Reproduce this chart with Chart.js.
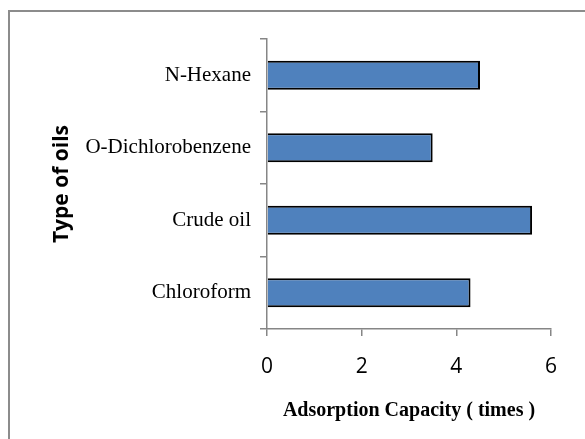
<!DOCTYPE html>
<html>
<head>
<meta charset="utf-8">
<script src="https://cdn.jsdelivr.net/npm/chart.js@4.4.1/dist/chart.umd.min.js"></script>
<style>
  body { margin: 0; background: #fff; }
  #wrap { position: relative; width: 585px; height: 439px; overflow: hidden; }
  #frame {
    position: absolute; left: 8px; top: 10px; width: 700px; height: 600px;
    border-left: 2px solid #8c8c8c; border-top: 2px solid #8c8c8c;
  }
  canvas { position: absolute; left: 0; top: 0; }
</style>
</head>
<body>
<div id="wrap">
  <div id="frame"></div>
  <canvas id="oilChart" width="585" height="439"></canvas>
</div>
<script>
// oils, listed top to bottom as in the picture
const oilTypes = ["N-Hexane", "O-Dichlorobenzene", "Crude oil", "Chloroform"];
const capacityValues = [4.5, 3.5, 5.6, 4.3];
const xTicks = [0, 2, 4, 6];

const axisGray = "#868686";

new Chart(document.getElementById("oilChart"), {
  type: "bar",
  data: {
    labels: oilTypes,
    datasets: [
      {
        data: capacityValues,
        backgroundColor: "#4f81bd",
        borderColor: "#000000",
        borderWidth: 2,
        barPercentage: 0.4,
        categoryPercentage: 1,
      },
    ],
  },
  options: {
    indexAxis: "y",
    responsive: false,
    animation: false,
    layout: {
      padding: { left: 10, top: 39, right: 34, bottom: 0 },
    },
    plugins: {
      legend: { display: false },
      tooltip: { enabled: false },
    },
    scales: {
      x: {
        min: xTicks[0],
        max: xTicks[xTicks.length - 1],
        afterBuildTicks: (scale) => {
          scale.ticks = xTicks.map((v) => ({ value: v }));
        },
        afterFit: (scale) => {
          scale.height = 110;
        },
        border: { color: axisGray, width: 1.5 },
        grid: {
          drawOnChartArea: false,
          drawTicks: true,
          tickLength: 7,
          color: axisGray,
          lineWidth: 1.5,
        },
        ticks: {
          color: "#000",
          padding: 18,
          font: { family: "Open Sans", size: 21 },
        },
        title: {
          display: true,
          text: "Adsorption Capacity ( times )",
          color: "#000",
          font: { family: "Liberation Serif", size: 20, weight: "bold" },
          padding: { top: 0, bottom: 16 },
        },
      },
      y: {
        afterFit: (scale) => {
          scale.width = 257;
        },
        border: { color: axisGray, width: 1.5 },
        grid: {
          drawOnChartArea: false,
          drawTicks: true,
          tickLength: 7,
          color: axisGray,
          lineWidth: 1.5,
        },
        ticks: {
          color: "#000",
          padding: 9,
          font: { family: "Liberation Serif", size: 21 },
        },
        title: {
          display: true,
          text: "Type of oils",
          color: "#000",
          font: { family: "Open Sans", size: 21, weight: "bold" },
          padding: { top: 39, bottom: 0 },
        },
      },
    },
  },
});
</script>
</body>
</html>
